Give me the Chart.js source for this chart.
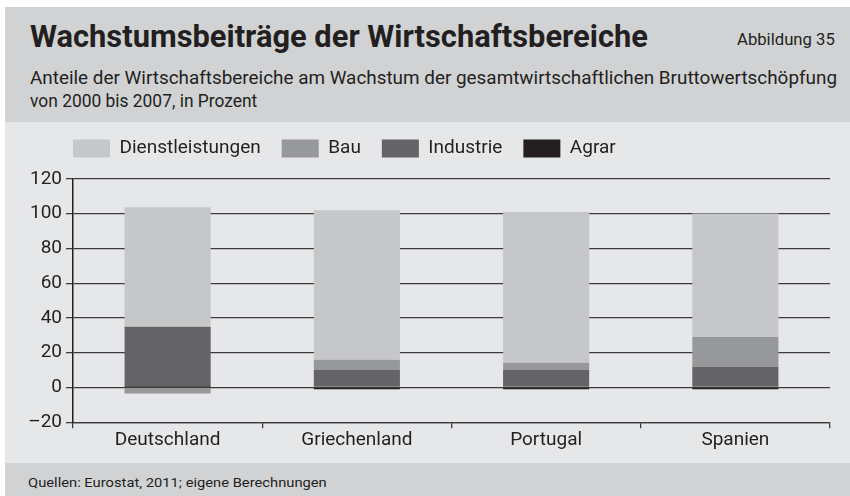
<!DOCTYPE html>
<html lang="de">
<head>
<meta charset="utf-8">
<script src="https://cdn.jsdelivr.net/npm/chart.js@4/dist/chart.umd.min.js"></script>
<style>
  html, body { margin: 0; padding: 0; background: #fff; }
  body { width: 850px; height: 496px; position: relative; overflow: hidden; font-family: Roboto, "Open Sans", sans-serif; color: #231f20; }
  .band { position: absolute; left: 5px; right: 0; }
  #head { top: 7px; height: 115px; background: #d1d2d4; }
  #plot { top: 122px; height: 341px; background: #e6e7e9; }
  #foot { top: 463px; height: 33px; background: #d1d2d4; }
  .txt { position: absolute; white-space: nowrap; transform-origin: 0 0; }
  #title { left: 30px; top: 18px; font-size: 31px; font-weight: 700; }
  #fig { right: 15px; top: 30px; font-size: 16px; transform-origin: 100% 0; }
  #sub1 { left: 30px; top: 66px; font-size: 19px; }
  #sub2 { left: 30px; top: 89px; font-size: 19px; }
  #src { left: 28px; top: 475px; font-size: 13px; }
  #wrap { position: absolute; left: 0; top: 122px; width: 850px; height: 340px; }
</style>
</head>
<body>
<div class="band" id="head"></div>
<div class="band" id="plot"></div>
<div class="band" id="foot"></div>
<div class="txt" id="title" data-w="618">Wachstumsbeiträge der Wirtschaftsbereiche</div>
<div class="txt" id="fig" data-w="98">Abbildung 35</div>
<div class="txt" id="sub1" data-w="807">Anteile der Wirtschaftsbereiche am Wachstum der gesamtwirtschaftlichen Bruttowertschöpfung</div>
<div class="txt" id="sub2" data-w="227">von 2000 bis 2007, in Prozent</div>
<div class="txt" id="src" data-w="299">Quellen: Eurostat, 2011; eigene Berechnungen</div>
<div id="wrap"><canvas id="chart" width="850" height="340"></canvas></div>

<script>
// Laender und Wachstumsbeitraege je Wirtschaftsbereich (Prozent)
const countries = ['Deutschland', 'Griechenland', 'Portugal', 'Spanien'];
const agrar = [0.8, -1, -1, -1];
const industrie = [34.2, 10.2, 10.2, 11.9];
const bau = [-3.5, 5.7, 4, 17.2];
const dienstleistungen = [68.8, 86.1, 86.8, 71];
const yTicks = [-20, 0, 20, 40, 60, 80, 100, 120];

// squeeze header/footer text to its width
document.querySelectorAll('.txt').forEach(el => {
  const w = parseFloat(el.dataset.w);
  el.style.transform = 'scaleX(' + (w / el.scrollWidth) + ')';
});

const font = { family: 'Roboto, "Open Sans", sans-serif', size: 19 };
const gridColor = '#3c3c3e';

// legend: tune its height, and start it above the y axis
const legendTweak = {
  id: 'legendTweak',
  afterInit(chart) {
    const lg = chart.legend;
    const fit = lg.fit.bind(lg);
    lg.fit = function () { fit(); this.height += 7; };
  },
  afterLayout(chart) {
    chart.legend.left = 52;
    chart.legend.top -= 4;
  }
};

// stacked bottom-up: Agrar, Industrie, Bau, Dienstleistungen
const datasets = [
  { label: 'Agrar', data: agrar, backgroundColor: '#231f20' },
  { label: 'Industrie', data: industrie, backgroundColor: '#646466' },
  { label: 'Bau', data: bau, backgroundColor: '#97989a' },
  { label: 'Dienstleistungen', data: dienstleistungen, backgroundColor: '#c6c7c9' }
].map(d => Object.assign(d, { barPercentage: 0.455, categoryPercentage: 1, borderWidth: 0 }));

new Chart(document.getElementById('chart'), {
  type: 'bar',
  data: { labels: countries, datasets: datasets },
  plugins: [legendTweak],
  options: {
    responsive: false,
    animation: false,
    events: [],
    layout: { padding: { left: 20, right: 20, top: 0, bottom: 9 } },
    plugins: {
      tooltip: { enabled: false },
      legend: {
        position: 'top',
        align: 'start',
        reverse: true,
        labels: {
          boxWidth: 37,
          boxHeight: 18,
          padding: 21,
          color: '#231f20',
          font: font
        }
      }
    },
    scales: {
      x: {
        stacked: true,
        grid: { offset: true, drawOnChartArea: false, color: gridColor, tickLength: 6, lineWidth: 1.3 },
        border: { color: gridColor, width: 1.3 },
        ticks: { color: '#231f20', font: font, padding: 1 }
      },
      y: {
        stacked: true,
        min: -20,
        max: 120,
        afterBuildTicks: axis => { axis.ticks = yTicks.map(v => ({ value: v })); },
        afterFit: axis => { axis.width = 53; },
        grid: { color: gridColor, lineWidth: 1.3, tickLength: 7 },
        border: { color: '#231f20', width: 1.5 },
        ticks: {
          color: '#231f20',
          font: font,
          padding: 4,
          callback: v => (v < 0 ? '\u2013' + Math.abs(v) : v)
        }
      }
    }
  }
});
</script>
</body>
</html>
